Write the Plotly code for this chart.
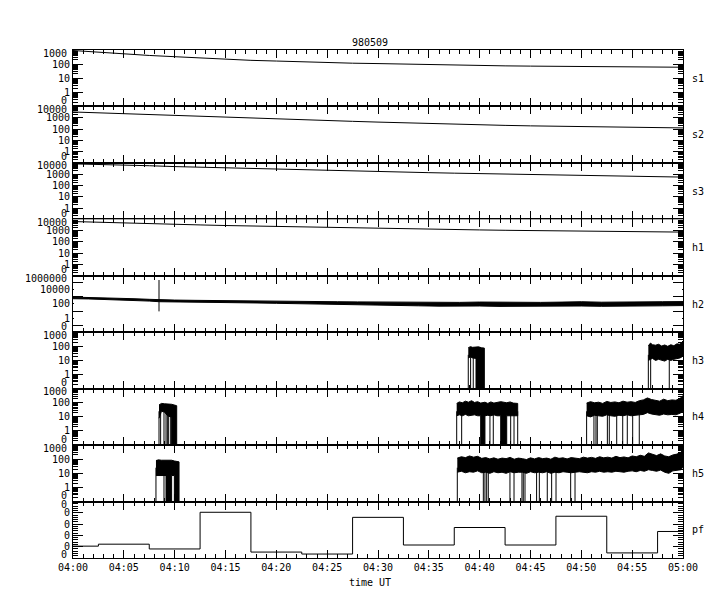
import math
import pandas as pd
import plotly.graph_objects as go
from plotly.subplots import make_subplots

# ---- data (minutes after 04:00 UT, 9 May 1998) ----
t_slow = [0, 2.5, 5, 7.5, 10, 12.5, 15, 17.5, 20, 22.5, 25, 27.5, 30,
          32.5, 35, 37.5, 40, 42.5, 45, 47.5, 50, 52.5, 55, 57.5, 60]
s1 = [920, 680, 520, 410, 335, 265, 212, 185, 165, 142, 128, 116, 109,
      99, 92, 86, 81, 75, 72, 69, 66, 63, 61, 62, 60]
s2 = [3240, 2700, 2230, 1800, 1480, 1250, 1040, 900, 770, 660, 560, 480, 410,
      350, 305, 265, 233, 210, 190, 175, 163, 150, 141, 132, 125]
s3 = [8150, 7400, 6650, 5600, 4700, 4100, 3610, 3150, 2770, 2450, 2170, 1920, 1700,
      1520, 1360, 1230, 1110, 1000, 900, 820, 750, 690, 640, 590, 550]
h1 = [6380, 5400, 4600, 4050, 3610, 3200, 2830, 2550, 2310, 2080, 1880, 1720, 1570,
      1440, 1330, 1230, 1150, 1070, 1000, 940, 880, 840, 800, 770, 740]

# h2: noisy trace given as its upper / lower envelope, plus one spike
h2_t = [0, 1.5, 3, 4.5, 6, 7.5, 8.5, 10, 12, 14, 16, 18, 20, 22, 24, 26, 28, 30,
        32, 34, 36, 38, 40, 42, 44, 46, 48, 50, 52, 54, 56, 58, 60]
h2_hi = [950, 880, 780, 680, 560, 460, 400, 360, 330, 300, 290, 270, 260, 240, 230,
         210, 200, 190, 185, 180, 200, 170, 190, 175, 200, 170, 185, 210, 180, 175,
         200, 210, 220]
h2_lo = [560, 520, 450, 390, 320, 260, 210, 190, 170, 160, 150, 140, 125, 110, 95,
         85, 75, 65, 60, 55, 50, 48, 52, 46, 50, 45, 48, 52, 47, 46, 50, 55, 60]
h2_spike_t = [8.46, 8.46]
h2_spike = [250000, 9]

# count-rate bursts: upper / lower edge of the noisy band, None = gap
h3_t = [38.88, 39.1, 39.3, 39.55, 39.64, 39.64, 39.9, 40.2, 40.46, None,
        56.59, 56.8, 57.0, 57.3, 57.6, 57.9, 58.2, 58.5, 58.8, 59.1, 59.4, 59.7, 60]
h3_hi = [80, 95, 85, 90, 82, 82, 92, 78, 75, None,
         110, 170, 130, 120, 140, 105, 125, 100, 130, 110, 150, 140, 240]
h3_lo = [15, 18, 15, 14, 14, 0.1, 0.1, 0.1, 0.1, None,
         10, 12, 14, 10, 12, 11, 9, 12, 10, 12, 14, 15, 20]
h3_drop = [38.88, 39.11, 39.37, 56.59, 56.82, 58.65]

h4_t = [8.46, 8.7, 9.0, 9.3, 9.6, 9.7, 9.7, 10.2, None,
        37.74, 38.0, 38.3, 38.6, 38.9, 39.2, 39.5, 39.8, 40.1, 40.1, 40.52, 40.52,
        40.8, 41.1, 41.4, 41.7, 42.07, 42.07, 42.66, 42.66, 43.0, 43.3, 43.74, None,
        50.52, 50.9, 51.3, 51.7, 52.1, 52.5, 52.9, 53.3, 53.7, 54.1, 54.5, 54.9,
        55.3, 55.7, 56.1, 56.5, 56.9, 57.3, 57.7, 58.1, 58.5, 58.9, 59.3, 59.7, 60]
h4_hi = [70, 90, 85, 80, 82, 78, 78, 62, None,
         90, 115, 100, 130, 110, 140, 105, 120, 95, 95, 110, 110,
         90, 115, 95, 105, 120, 120, 100, 100, 115, 95, 90, None,
         95, 120, 100, 110, 90, 125, 105, 115, 100, 130, 110, 120,
         105, 140, 160, 220, 170, 150, 130, 180, 140, 160, 150, 200, 320]
h4_lo = [8, 25, 22, 12, 10, 10, 0.1, 0.1, None,
         12, 14, 12, 15, 12, 13, 14, 12, 12, 0.1, 0.1, 12,
         13, 12, 14, 12, 12, 0.1, 0.1, 12, 13, 12, 12, None,
         12, 10, 13, 12, 11, 14, 12, 11, 13, 12, 14, 12,
         13, 14, 15, 20, 16, 14, 13, 16, 14, 15, 14, 18, 25]
h4_drop = [8.46, 8.62, 8.95, 9.15, 9.28, 9.41, 9.61,
           37.74, 38.23, 41.01, 41.34, 43.05, 43.38, 43.74,
           50.52, 51.24, 51.44, 51.57, 52.56, 52.75, 53.48, 54.07, 54.52, 55.05, 55.7]

h5_t = [8.16, 8.4, 8.7, 9.0, 9.15, 9.15, 9.7, 9.7, 9.97, 9.97, 10.43, None,
        37.8, 38.2, 38.6, 39.0, 39.4, 39.8, 40.2, 40.6, 41.0, 41.4, 41.8, 42.2,
        42.6, 43.0, 43.4, 43.8, 44.2, 44.6, 45.0, 45.4, 45.8, 46.2, 46.6, 47.0,
        47.4, 47.8, 48.2, 48.6, 49.0, 49.4, 49.8, 50.2, 50.6, 51.0, 51.4, 51.8,
        52.2, 52.6, 53.0, 53.4, 53.8, 54.2, 54.6, 55.0, 55.4, 55.8, 56.2, 56.6,
        57.0, 57.4, 57.8, 58.2, 58.6, 59.0, 59.4, 59.8, 60]
h5_hi = [80, 90, 85, 88, 80, 80, 85, 85, 75, 75, 65, None,
         120, 150, 130, 170, 140, 160, 115, 130, 105, 125, 100, 120,
         110, 135, 100, 120, 110, 95, 125, 105, 130, 110, 120, 100,
         140, 115, 125, 105, 130, 120, 110, 140, 120, 135, 115, 150,
         125, 140, 120, 160, 130, 145, 125, 170, 150, 190, 160, 280,
         210, 180, 240, 170, 150, 200, 230, 300, 600]
h5_lo = [7, 7, 7, 7, 7, 0.1, 0.1, 7, 7, 0.1, 0.1, None,
         12, 14, 11, 13, 12, 15, 11, 12, 10, 13, 11, 12,
         10, 13, 11, 12, 12, 10, 13, 11, 12, 11, 13, 10,
         12, 11, 13, 12, 11, 12, 13, 12, 11, 13, 12, 14,
         12, 13, 12, 14, 13, 12, 14, 15, 13, 16, 14, 18,
         16, 14, 17, 12, 10, 15, 16, 18, 30]
h5_drop = [8.16, 8.95, 37.8, 40.36, 40.52, 40.69, 40.85, 42.98, 43.38, 44.16, 44.29,
           44.46, 45.6, 45.87, 46.65, 47.08, 47.51, 48.95, 49.38]

pf_t = [0, 2.5, 7.5, 12.5, 17.5, 22.5, 27.5, 32.5, 37.5, 42.5, 47.5, 52.5, 57.5, 60]
pf = [0.21, 0.245, 0.16, 0.81, 0.105, 0.07, 0.72, 0.23, 0.54, 0.23, 0.74, 0.09, 0.47, 0.47]

labels = ["s1", "s2", "s3", "h1", "h2", "h3", "h4", "h5", "pf"]

base = pd.Timestamp("1998-05-09 04:00")


def tm(mins):
    return [None if m is None else base + pd.Timedelta(minutes=m) for m in mins]


fig = make_subplots(rows=9, cols=1, shared_xaxes=True, vertical_spacing=0)
line = dict(color="black", width=1)

for row, vals in [(1, s1), (2, s2), (3, s3), (4, h1)]:
    fig.add_trace(go.Scatter(x=tm(t_slow), y=vals, mode="lines", line=line), row=row, col=1)


def band(t, hi, lo, row):
    # close each burst segment into a polygon between its upper and lower edge
    xs, ys = [], []
    seg_t, seg_hi, seg_lo = [], [], []
    for a, b, c in list(zip(t, hi, lo)) + [(None, None, None)]:
        if a is None:
            if seg_t:
                xs += seg_t + seg_t[::-1] + [None]
                ys += seg_hi + seg_lo[::-1] + [None]
            seg_t, seg_hi, seg_lo = [], [], []
        else:
            seg_t.append(a); seg_hi.append(b); seg_lo.append(c)
    fig.add_trace(go.Scatter(x=tm(xs), y=ys, mode="lines", fill="toself",
                             fillcolor="black", line=line), row=row, col=1)


def drops(times, row, top=25):
    xs, ys = [], []
    for d in times:
        xs += [d, d, None]
        ys += [top, 0.1, None]
    fig.add_trace(go.Scatter(x=tm(xs), y=ys, mode="lines", line=line), row=row, col=1)


band(h2_t, h2_hi, h2_lo, 5)
fig.add_trace(go.Scatter(x=tm(h2_spike_t), y=h2_spike, mode="lines", line=line), row=5, col=1)
band(h3_t, h3_hi, h3_lo, 6); drops(h3_drop, 6)
band(h4_t, h4_hi, h4_lo, 7); drops(h4_drop, 7)
band(h5_t, h5_hi, h5_lo, 8); drops(h5_drop, 8)

fig.add_trace(go.Scatter(x=tm(pf_t), y=pf, mode="lines", line_shape="hv", line=line),
              row=9, col=1)


def minor_log(lo, hi):
    return [m * 10 ** e for e in range(lo, hi) for m in range(2, 10)]


axis_common = dict(showline=True, linecolor="black", linewidth=1, mirror="allticks",
                   ticks="inside", tickcolor="black", showgrid=False, zeroline=False,
                   automargin=False)

fig.update_xaxes(**axis_common, type="date",
                 range=[base, base + pd.Timedelta(minutes=60)],
                 tick0=base, dtick=300000, tickformat="%H:%M", ticklen=8,
                 minor=dict(dtick=60000, ticks="inside", ticklen=4, tickcolor="black"))


def yref(row):
    return "y" if row == 1 else f"y{row}"


def edge_labels(row, top_pos, top_txt, bot_pos, bot_txt, top_shift=-3, bot_shift=6):
    # end labels sit a little inside the panel, as in the original
    # (positions are axis coordinates: log10 of the value on log panels)
    for p, txt, sh in [(top_pos, top_txt, top_shift), (bot_pos, bot_txt, bot_shift)]:
        fig.add_annotation(text=txt, xref="paper", yref=yref(row), x=0, y=p,
                           xanchor="right", yanchor="middle", xshift=-4, yshift=sh,
                           showarrow=False)


log_specs = {
    1: (-1, 3), 2: (-1, 4), 3: (-1, 4), 4: (-1, 4),
    6: (-1, 3), 7: (-1, 3), 8: (-1, 3),
}
for row, (lo, hi) in log_specs.items():
    vals = [10 ** e for e in range(lo, hi + 1)]
    text = [""] + [str(int(v)) for v in vals[1:-1]] + [""]
    fig.update_yaxes(**axis_common, type="log", range=[lo, hi], tickvals=vals,
                     ticktext=text, ticklen=10,
                     minor=dict(tickvals=minor_log(lo, hi), ticks="inside",
                                ticklen=5, tickcolor="black"),
                     row=row, col=1)
    edge_labels(row, hi, str(int(10 ** hi)), lo, "0")

# h2: labels every second decade, long ticks on the odd decades
fig.update_yaxes(**axis_common, type="log", range=[-2, 6],
                 tickvals=[0.01, 1, 100, 1e4, 1e6],
                 ticktext=["", "1", "100", "10000", ""], ticklen=1,
                 minor=dict(tickvals=[0.1, 10, 1e3, 1e5], ticks="inside",
                            ticklen=10, tickcolor="black"),
                 row=5, col=1)
edge_labels(5, math.log10(1e6), "1000000", math.log10(0.01), "0")

fig.update_yaxes(**axis_common, range=[0, 1], tickvals=[0.2, 0.4, 0.6, 0.8],
                 ticktext=["0"] * 4, ticklen=10,
                 minor=dict(dtick=0.04, ticks="inside", ticklen=5, tickcolor="black"),
                 row=9, col=1)
edge_labels(9, 1.0, "0", 0.0, "0", top_shift=-3, bot_shift=3)

for i, lab in enumerate(labels):
    fig.add_annotation(text=lab, xref="paper", yref=yref(i + 1) + " domain",
                       x=1.0246, y=0.5, showarrow=False,
                       xanchor="center", yanchor="middle")

fig.add_annotation(text="time UT", xref="paper", yref="paper", x=0.487, y=-0.049,
                   showarrow=False, xanchor="center", yanchor="middle")

fig.update_layout(
    title=dict(text="980509", x=370 / 720, xref="container", xanchor="center",
               y=1 - 42 / 600, yref="container", yanchor="middle",
               font=dict(size=10)),
    width=720, height=600,
    margin=dict(l=73, r=37, t=50, b=42),
    plot_bgcolor="white", paper_bgcolor="white",
    showlegend=False,
    font=dict(family="DejaVu Sans Mono", size=10, color="black"),
)

fig.write_html("out.html", config={"displayModeBar": False},
               post_script="document.body.style.margin='0';")
